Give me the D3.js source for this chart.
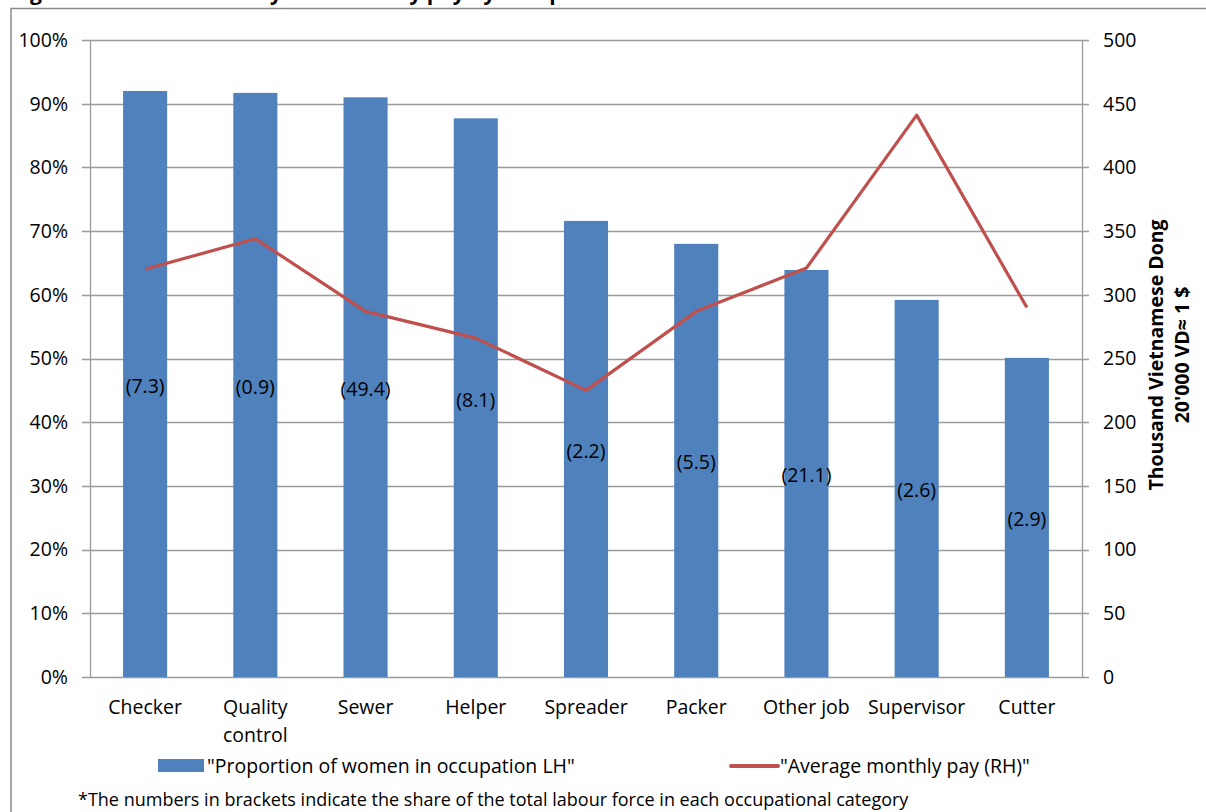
<!DOCTYPE html>
<html><head><meta charset="utf-8">
<script src="https://cdn.jsdelivr.net/npm/d3@7"></script>
<style>html,body{margin:0;padding:0;background:#fff;overflow:hidden}text{font-family:"Open Sans","Liberation Sans",sans-serif;fill:#000}</style>
</head><body><svg id="c" width="1206" height="812"></svg>
<script>
const categories = ["Checker","Quality control","Sewer","Helper","Spreader","Packer","Other job","Supervisor","Cutter"];
const womenShare = [0.92,0.917,0.91,0.877,0.716,0.68,0.639,0.592,0.501];
const avgPay = [320,344,287,266,225,287,321,441,290];
const laborShare = ["(7.3)","(0.9)","(49.4)","(8.1)","(2.2)","(5.5)","(21.1)","(2.6)","(2.9)"];
const leftTicks = [0,0.1,0.2,0.3,0.4,0.5,0.6,0.7,0.8,0.9,1];
const rightTicks = [0,50,100,150,200,250,300,350,400,450,500];
const titleText = "Figure 3: Gender intensity and monthly pay by occupation";
const barLegend = "\"Proportion of women in occupation LH\"";
const lineLegend = "\"Average monthly pay (RH)\"";
const rightTitle = ["Thousand Vietnamese Dong","20'000 VD\u2248 1 $"];
const note = "*The numbers in brackets indicate the share of the total labour force in each occupational category";

const svg = d3.select("#c");
const L = 90, R = 1082, T = 40, B = 677;
const FS = 19.5;
const x = d3.scaleBand().domain(categories).range([L,R]).paddingInner(0.6).paddingOuter(0.3);
const xc = d3.scaleBand().domain(categories).range([L,R]);
const yL = d3.scaleLinear().domain([0,1]).range([B,T]);
const yR = d3.scaleLinear().domain([0,500]).range([B,T]);
const grid = "#9a9a9a";

// title (clipped at top, as in the source)
svg.append("text").attr("x",12).attr("y",0).attr("font-weight","bold").attr("font-size",21).text(titleText);
// frame
svg.append("rect").attr("x",11).attr("y",8.5).attr("width",1210).attr("height",820).attr("fill","none").attr("stroke","#8a8a8a").attr("stroke-width",1.5);

// gridlines
svg.append("g").selectAll("line").data(leftTicks).join("line")
  .attr("x1",L-8).attr("x2",R+7).attr("y1",d=>Math.round(yL(d))+0.5).attr("y2",d=>Math.round(yL(d))+0.5)
  .attr("stroke",grid).attr("stroke-width",1.3);
// axes lines
svg.append("line").attr("x1",L+0.5).attr("x2",L+0.5).attr("y1",T).attr("y2",B).attr("stroke",grid).attr("stroke-width",1.3);
svg.append("line").attr("x1",R+0.5).attr("x2",R+0.5).attr("y1",T).attr("y2",B).attr("stroke",grid).attr("stroke-width",1.3);

// tick labels
svg.append("g").selectAll("text").data(leftTicks).join("text")
  .attr("x",68).attr("y",d=>yL(d)).attr("dy","0.35em").attr("text-anchor","end").attr("font-size",FS)
  .text(d=>d3.format(".0%")(d));
svg.append("g").selectAll("text").data(rightTicks).join("text")
  .attr("x",1103).attr("y",d=>yR(d)).attr("dy","0.35em").attr("text-anchor","start").attr("font-size",FS)
  .text(d=>d);

// bars
svg.append("g").selectAll("rect").data(categories).join("rect")
  .attr("x",d=>x(d)).attr("width",x.bandwidth())
  .attr("y",(d,i)=>yL(womenShare[i])).attr("height",(d,i)=>B-yL(womenShare[i]))
  .attr("fill","#4F81BD");
// bar labels
svg.append("g").selectAll("text").data(categories).join("text")
  .attr("x",d=>xc(d)+xc.bandwidth()/2).attr("y",(d,i)=>yL(womenShare[i]/2)+2).attr("dy","0.35em")
  .attr("text-anchor","middle").attr("font-size",FS).text((d,i)=>laborShare[i]);

// line
const line = d3.line().x((d,i)=>xc(categories[i])+xc.bandwidth()/2).y(d=>yR(d));
svg.append("path").datum(avgPay).attr("d",line).attr("fill","none").attr("stroke","#C0504D").attr("stroke-width",3.2).attr("stroke-linejoin","round");

// category labels
const cl = svg.append("g").selectAll("text").data(categories).join("text")
  .attr("x",d=>xc(d)+xc.bandwidth()/2).attr("y",707).attr("dy","0.35em").attr("text-anchor","middle").attr("font-size",FS);
cl.each(function(d){
  const words = d==="Quality control" ? ["Quality","control"] : [d];
  d3.select(this).selectAll("tspan").data(words).join("tspan")
    .attr("x",xc(d)+xc.bandwidth()/2).attr("dy",(w,i)=>i?"1.45em":"0.35em").text(w=>w);
});

// legend
svg.append("rect").attr("x",158).attr("y",759).attr("width",46).attr("height",13).attr("fill","#4F81BD");
svg.append("text").attr("x",207).attr("y",766).attr("dy","0.35em").attr("font-size",FS).text(barLegend);
svg.append("line").attr("x1",731).attr("x2",778).attr("y1",766).attr("y2",766).attr("stroke","#C0504D").attr("stroke-width",4).attr("stroke-linecap","round");
svg.append("text").attr("x",780).attr("y",766).attr("dy","0.35em").attr("font-size",FS).text(lineLegend);
// note
svg.append("text").attr("x",78).attr("y",800).attr("dy","0.35em").attr("font-size",18).text(note);

// right title
const rt = svg.append("text").attr("transform","translate(1163,355) rotate(-90)").attr("text-anchor","middle").attr("font-weight","bold").attr("font-size",19.5);
rt.selectAll("tspan").data(rightTitle).join("tspan").attr("x",0).attr("dy",(d,i)=>i?26:0).text(d=>d);
</script></body></html>
